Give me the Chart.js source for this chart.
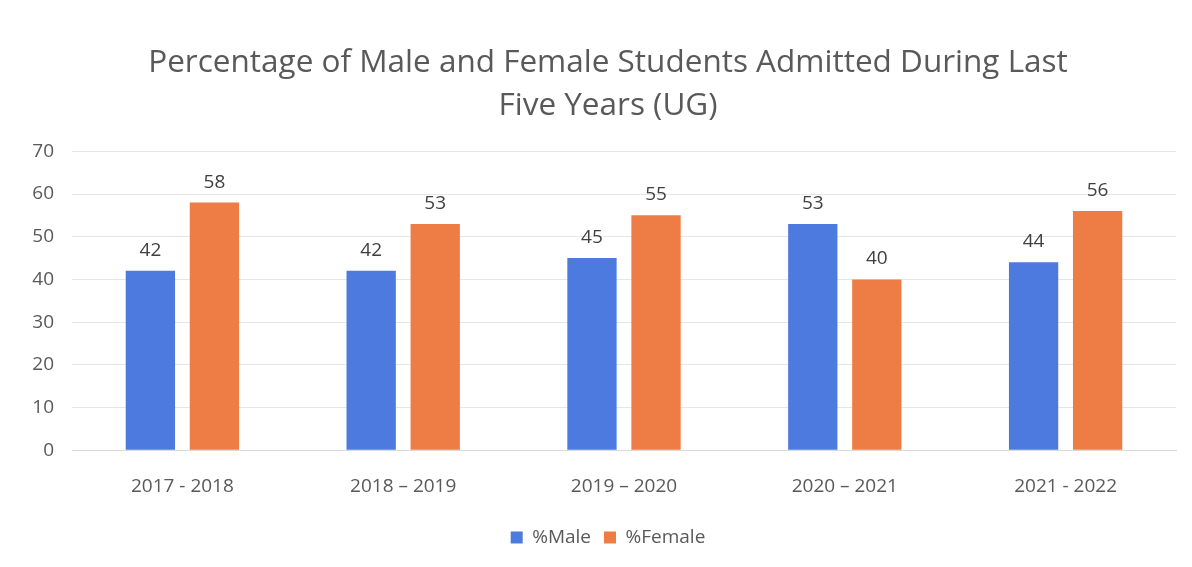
<!DOCTYPE html>
<html>
<head>
<meta charset="utf-8">
<script src="https://cdn.jsdelivr.net/npm/chart.js@4"></script>
<style>
  html, body { margin: 0; padding: 0; background: #fff; }
  #wrap { width: 1192px; height: 567px; }
</style>
</head>
<body>
<div id="wrap"><canvas id="admitChart" width="1192" height="567"></canvas></div>
<script>
const years = ['2017 - 2018', '2018 \u2013 2019', '2019 \u2013 2020', '2020 \u2013 2021', '2021 - 2022'];
const malePct = [42, 42, 45, 53, 44];
const femalePct = [58, 53, 55, 40, 56];
const yTicks = [0, 10, 20, 30, 40, 50, 60, 70];

const FONT = "'Open Sans', sans-serif";

// Draw value labels above each bar
const valueLabels = {
    id: 'valueLabels',
    afterDatasetsDraw(chart) {
        const ctx = chart.ctx;
        ctx.save();
        ctx.font = '19px ' + FONT;
        ctx.fillStyle = '#404040';
        ctx.textAlign = 'center';
        ctx.textBaseline = 'alphabetic';
        chart.data.datasets.forEach(function(ds, i) {
            chart.getDatasetMeta(i).data.forEach(function(bar, j) {
                ctx.fillText(ds.data[j], bar.x, bar.y - 15);
            });
        });
        ctx.restore();
    }
};

// Title and legend sit a bit right of the canvas centre in the original
const shiftBlocks = {
    id: 'shiftBlocks',
    afterLayout(chart) {
        if (chart.titleBlock) chart.titleBlock.left = 40;
        if (chart.legend) chart.legend.left = 40;
    }
};

const ctx = document.getElementById('admitChart').getContext('2d');
new Chart(ctx, {
    type: 'bar',
    data: {
        labels: years,
        datasets: [{
            label: '%Male',
            data: malePct,
            backgroundColor: '#4c7ade'
        }, {
            label: '%Female',
            data: femalePct,
            backgroundColor: '#ed7c45'
        }]
    },
    options: {
        responsive: false,
        animation: false,
        layout: {
            padding: { left: 0, right: 16, top: 41, bottom: 10 }
        },
        datasets: {
            bar: {
                categoryPercentage: 0.58,
                barPercentage: 0.77
            }
        },
        plugins: {
            title: {
                display: true,
                text: ['Percentage of Male and Female Students Admitted During Last', 'Five Years (UG)'],
                color: '#595959',
                font: { family: FONT, size: 31.5, weight: 'normal', lineHeight: 1.37 },
                padding: { top: 0, bottom: 24 }
            },
            legend: {
                position: 'bottom',
                labels: {
                    color: '#595959',
                    font: { family: FONT, size: 19 },
                    boxWidth: 12,
                    boxHeight: 12,
                    padding: 13
                }
            },
            tooltip: { enabled: false }
        },
        scales: {
            x: {
                grid: { display: false },
                border: { display: true, color: '#d9d9d9' },
                ticks: {
                    color: '#595959',
                    font: { family: FONT, size: 19 },
                    padding: 17
                }
            },
            y: {
                min: 0,
                max: 70,
                afterFit: function(scale) { scale.width = 72; },
                afterBuildTicks: function(scale) {
                    scale.ticks = yTicks.map(function(v) { return { value: v }; });
                },
                grid: { color: '#e6e6e6', drawTicks: false },
                border: { display: false },
                ticks: {
                    color: '#595959',
                    font: { family: FONT, size: 19 },
                    padding: 18
                }
            }
        }
    },
    plugins: [valueLabels, shiftBlocks]
});
</script>
</body>
</html>
